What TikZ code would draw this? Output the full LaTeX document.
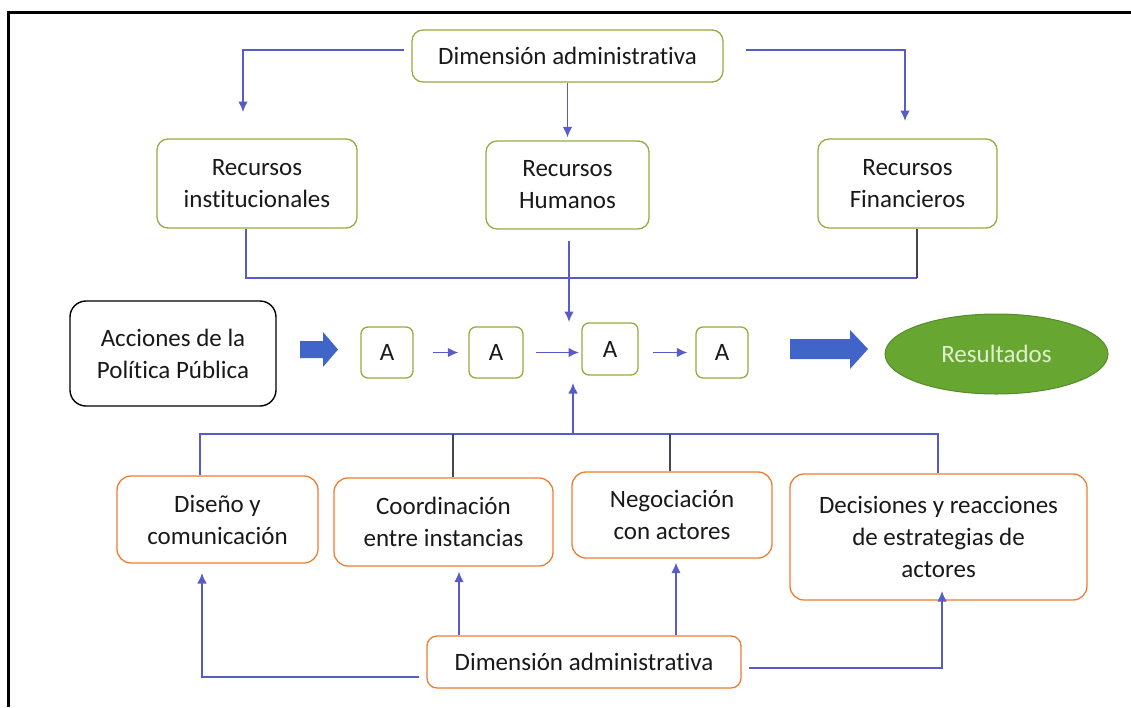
\documentclass[tikz,border=0pt]{standalone}
\usepackage{fontspec}
\setmainfont{Carlito}[Ligatures=NoCommon]
\usetikzlibrary{arrows.meta,shapes.geometric}
\definecolor{olivebd}{RGB}{150,172,62}
\definecolor{orangebd}{RGB}{237,125,49}
\definecolor{connblue}{RGB}{88,92,200}
\definecolor{arrowblue}{RGB}{64,100,200}
\definecolor{resgreen}{RGB}{104,166,50}
\definecolor{resgreendk}{RGB}{84,140,40}
\definecolor{restext}{RGB}{222,240,205}
\definecolor{darkconn}{RGB}{70,70,80}
\tikzset{
  txt/.style={font=\fontsize{25}{32}\selectfont, align=center, inner sep=0pt, text=black!90},
  greenbox/.style={txt, draw=olivebd, line width=1.3pt, rounded corners=11pt, fill=white},
  orangebox/.style={txt, draw=orangebd, line width=1.3pt, rounded corners=14pt, fill=white},
  abox/.style={greenbox, rounded corners=7pt},
  conn/.style={draw=connblue, line width=1.4pt},
  dconn/.style={draw=darkconn, line width=1.1pt},
  arr/.style={conn, -{Latex[length=10.5pt,width=9.5pt]}},
  blockarrow/.style={fill=arrowblue},
}
\begin{document}
\begin{tikzpicture}[x=1pt,y=-1pt]
\useasboundingbox (0,0) rectangle (1131,707);
\fill[white] (0,0) rectangle (1131,707);
% frame
\draw[line width=3pt] (8,707) -- (8,12) -- (1131,12);

% top dimension
\node[greenbox, minimum width=311pt, minimum height=52pt] (dimtop) at (567.5,56) {Dimensión administrativa};
\node[greenbox, minimum width=200pt, minimum height=89pt] (ri) at (257,183.5) {Recursos\\institucionales};
\node[greenbox, minimum width=163pt, minimum height=88pt] (rh) at (567.5,185) {Recursos\\Humanos};
\node[greenbox, minimum width=179pt, minimum height=89pt] (rf) at (907.5,183.5) {Recursos\\Financieros};

\coordinate (tl) at (243,112);
\coordinate (tr) at (905,121);
\draw[arr] ([xshift=-7pt,yshift=6pt]dimtop.west) -| (tl);
\draw[arr] ([xshift=22pt,yshift=6pt]dimtop.east) -| (tr);
\draw[arr] (dimtop.south) -- ([yshift=3pt]rh.north);

% resources bus
\coordinate (busr) at (917,278);
\draw[conn] ([xshift=-11pt]ri.south) |- (busr);
\draw[dconn] (busr) -- (busr |- rf.south);

% action row
\node[txt, draw=black, line width=1.4pt, rounded corners=16pt, minimum width=206pt, minimum height=105pt, fill=white] (acc) at (173,353.5) {Acciones de la\\Política Pública};
\node[abox, minimum width=52pt, minimum height=51pt] (a1) at (387,352.5) {A};
\node[abox, minimum width=54pt, minimum height=51pt] (a2) at (496,352.5) {A};
\node[abox, minimum width=56pt, minimum height=52pt] (a3) at (610,349) {A};
\node[abox, minimum width=52pt, minimum height=51pt] (a4) at (722,352.5) {A};
\node[ellipse, fill=resgreen, draw=resgreendk, line width=1pt, minimum width=223pt, minimum height=80pt, inner sep=0pt, text=restext, font=\fontsize{25}{32}\selectfont] (res) at (996.5,354) {Resultados};

% block arrows
\fill[blockarrow] (300,341) -- (323,341) -- (323,332) -- (338,349.5) -- (323,367) -- (323,358) -- (300,358) -- cycle;
\fill[blockarrow] (790,339) -- (850,339) -- (850,330) -- (868,349) -- (850,369) -- (850,359) -- (790,359) -- cycle;

% A arrows
\coordinate (a3in) at (579,352.5);
\coordinate (a3top) at (569,322);
\coordinate (a3bot) at (573,383);
\draw[arr] ([xshift=19pt]a1.east) -- ([xshift=-10pt]a2.west);
\draw[arr] ([xshift=12pt]a2.east) -- (a3in);
\draw[arr] ([xshift=14pt]a3.east |- a4.west) -- ([xshift=-8pt]a4.west);
\draw[arr] (a3top |- rh.south) ++(0,11) -- (a3top);

% bottom boxes
\node[orangebox, minimum width=201pt, minimum height=87pt] (dis) at (217.5,519.5) {Diseño y\\comunicación};
\node[orangebox, minimum width=219pt, minimum height=88pt] (coo) at (443.5,522) {Coordinación\\entre instancias};
\node[orangebox, minimum width=200pt, minimum height=86pt] (neg) at (672,515) {Negociación\\con actores};
\node[orangebox, minimum width=297pt, minimum height=126pt] (dec) at (938.5,537) {Decisiones y reacciones\\de estrategias de\\actores};
\node[orangebox, rounded corners=10pt, minimum width=314pt, minimum height=52pt] (dimbot) at (584,662) {Dimensión administrativa};

% lower bus
\coordinate (busl) at (200,434);
\coordinate (busrr) at (938,434);
\draw[conn] (dis.north -| busl) -- (busl) -- (busrr) -- (dec.north -| busrr);
\draw[dconn] (coo.north -| 453,0) -- (453,434);
\draw[dconn] (neg.north -| 670,0) -- (670,434);
\draw[arr] (573,434) -- (a3bot);

% bottom arrows
\coordinate (bl) at (202,573);
\coordinate (br) at (942,591);
\draw[arr] ([xshift=-7pt,yshift=-15pt]dimbot.west) -| (bl);
\draw[arr] (dimbot.north -| 459,0) -- ([yshift=-5pt]coo.south -| 459,0);
\draw[arr] (dimbot.north -| 676,0) -- ([yshift=-4pt]neg.south -| 676,0);
\draw[arr] ([xshift=7pt,yshift=-6pt]dimbot.east) -| (br);
\end{tikzpicture}
\end{document}
